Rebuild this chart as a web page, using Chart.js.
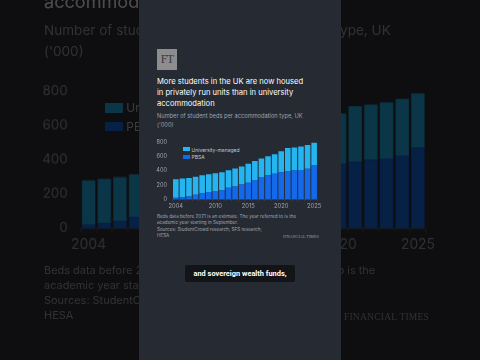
<!DOCTYPE html>
<html>
<head>
<meta charset="utf-8">
<script src="https://cdn.jsdelivr.net/npm/chart.js@4"></script>
<style>
  html, body { margin: 0; padding: 0; }
  body {
    width: 480px; height: 360px; overflow: hidden; position: relative;
    background: #0e0e10;
    font-family: Inter, 'Noto Sans', sans-serif;
  }
  .layer { position: absolute; left: 0; top: 0; width: 480px; height: 360px; overflow: hidden; }
  #bg { filter: brightness(0.3) blur(0.6px); }
  #panel { position: absolute; left: 139px; top: 0; width: 202px; height: 360px; background: #262a33; }
  .abs { position: absolute; white-space: nowrap; }
  #caption {
    position: absolute; left: 185px; top: 265px; width: 110px; height: 17px;
    background: #131418; border-radius: 2px;
    color: #fff; font-family: Roboto, sans-serif; font-weight: bold;
    font-size: 7.4px; line-height: 17px; text-align: center;
  }
</style>
</head>
<body>
<div class="layer" id="bg"></div>
<div id="panel"></div>
<div class="layer" id="fg"></div>
<div id="caption">and sovereign wealth funds,</div>

<script>
/* ---------- data ---------- */
const years = ['2004','2005','2006','2007','2008','2009','2010','2011','2012','2013','2014',
               '2015','2016','2017','2018','2019','2020','2021','2022','2023','2024','2025'];
const tickYears = ['2004', '2010', '2015', '2020', '2025'];
const yTicks = [0, 200, 400, 600, 800];

const pbsa = [22, 30, 40, 65, 85, 100, 110, 125, 160, 180, 205,
              232, 270, 312, 335, 357, 378, 388, 400, 408, 425, 470];
const universityManaged = [258, 258, 258, 250, 249, 250, 254, 253, 243, 250, 251,
                           262, 262, 255, 265, 271, 292, 325, 322, 327, 330, 318];

const seriesNames = ['University-managed', 'PBSA'];
const seriesColors = ['#24b4f0', '#1469ea'];

const titleLines = [
  'More students in the UK are now housed',
  'in privately run units than in university',
  'accommodation'
];
const subtitleLines = [
  'Number of student beds per accommodation type, UK',
  "('000)"
];
const noteLines = [
  'Beds data before 2021 is an estimate. The year referred to is the',
  'academic year starting in September.',
  'Sources: StudentCrowd research; SFS research;',
  'HESA'
];

/* ---------- one card, drawn at scale s ---------- */
function buildCard(root, s, ox, oy) {

  const X = c => ox + (c - 157) * s;
  const Y = c => oy + (c - 116) * s;

  const add = (html, x, y, css) => {
    const el = document.createElement('div');
    el.className = 'abs';
    el.innerHTML = html;
    el.style.left = X(x) + 'px';
    el.style.top = Y(y) + 'px';
    Object.assign(el.style, css);
    root.appendChild(el);
    return el;
  };

  // FT logo
  add('FT', 157, 49, {
    width: 20 * s + 'px', height: 21 * s + 'px',
    background: '#8d8d8f', color: '#3a3a3e',
    fontFamily: "'Liberation Serif', serif",
    fontSize: 12 * s + 'px', lineHeight: 21 * s + 'px',
    textAlign: 'center', letterSpacing: -0.8 * s + 'px'
  });

  add(titleLines.join('<br>'), 157, 77.4, {
    color: '#ffffff', fontSize: 7.6 * s + 'px', lineHeight: 10.6 * s + 'px'
  });

  add(subtitleLines.join('<br>'), 157, 112, {
    color: '#9ea3ab', fontSize: 5.7 * s + 'px', lineHeight: 8.7 * s + 'px'
  });

  add(noteLines.join('<br>'), 157, 213.8, {
    color: '#a0a4ab', fontSize: 4.6 * s + 'px', lineHeight: 6.4 * s + 'px'
  });

  add('FINANCIAL TIMES', 283, 234.6, {
    color: '#a0a0a4', fontFamily: "'Liberation Serif', serif",
    fontSize: 4 * s + 'px', lineHeight: 4.4 * s + 'px', letterSpacing: 0.1 * s + 'px'
  });

  // legend
  seriesNames.forEach((name, i) => {
    add('<span style="display:inline-block;vertical-align:middle;width:' + 7.5 * s +
        'px;height:' + 4 * s + 'px;background:' + seriesColors[i] + ';margin-right:' +
        1.6 * s + 'px"></span><span style="vertical-align:middle">' + name + '</span>',
      182.5, 145.5 + i * 7.7, {
        color: '#c3c7cd', fontSize: 5 * s + 'px', lineHeight: 6 * s + 'px'
      });
  });

  // chart
  const canvas = document.createElement('canvas');
  canvas.width = 168 * s;
  canvas.height = 80 * s;
  canvas.className = 'abs';
  canvas.style.left = X(155) + 'px';
  canvas.style.top = Y(133) + 'px';
  canvas.style.width = 168 * s + 'px';
  canvas.style.height = 80 * s + 'px';
  root.appendChild(canvas);

  new Chart(canvas, {

    type: 'bar',

    data: {
      labels: years,
      datasets: [
        {
          label: seriesNames[1],
          data: pbsa,
          backgroundColor: seriesColors[1],
          borderWidth: 0
        },
        {
          label: seriesNames[0],
          data: universityManaged,
          backgroundColor: seriesColors[0],
          borderWidth: 0
        }
      ]
    },

    options: {
      responsive: false,
      animation: false,
      devicePixelRatio: 1,
      layout: { padding: { top: 4.3 * s, right: 5.5 * s, left: 0, bottom: 0 } },
      datasets: {
        bar: { barPercentage: 0.85, categoryPercentage: 1 }
      },
      plugins: {
        legend: { display: false },
        tooltip: { enabled: false }
      },
      scales: {
        x: {
          stacked: true,
          afterFit: a => { a.height = 13.7 * s; },
          grid: {
            display: true, drawOnChartArea: false,
            tickLength: 1.8 * s, color: '#454952', lineWidth: 0.6 * s
          },
          border: { display: true, color: '#4a4e57', width: 0.6 * s },
          ticks: {
            autoSkip: false, maxRotation: 0, padding: 1.6 * s,
            color: '#a0a4ab',
            font: { family: 'Inter', size: 5.8 * s },
            callback: function (v) {
              const lab = this.getLabelForValue(v);
              return tickYears.includes(lab) ? lab : '';
            }
          }
        },
        y: {
          stacked: true,
          min: yTicks[0],
          max: yTicks[yTicks.length - 1],
          afterFit: a => { a.width = 17.5 * s; },
          grid: { display: false, drawTicks: false },
          border: { display: false },
          ticks: {
            stepSize: yTicks[1] - yTicks[0],
            padding: 5.5 * s,
            color: '#a0a4ab',
            font: { family: 'Inter', size: 5.6 * s }
          }
        }
      }
    }

  });
}

buildCard(document.getElementById('bg'), 2.38, 44, 30);
buildCard(document.getElementById('fg'), 1, 157, 116);
</script>
</body>
</html>
